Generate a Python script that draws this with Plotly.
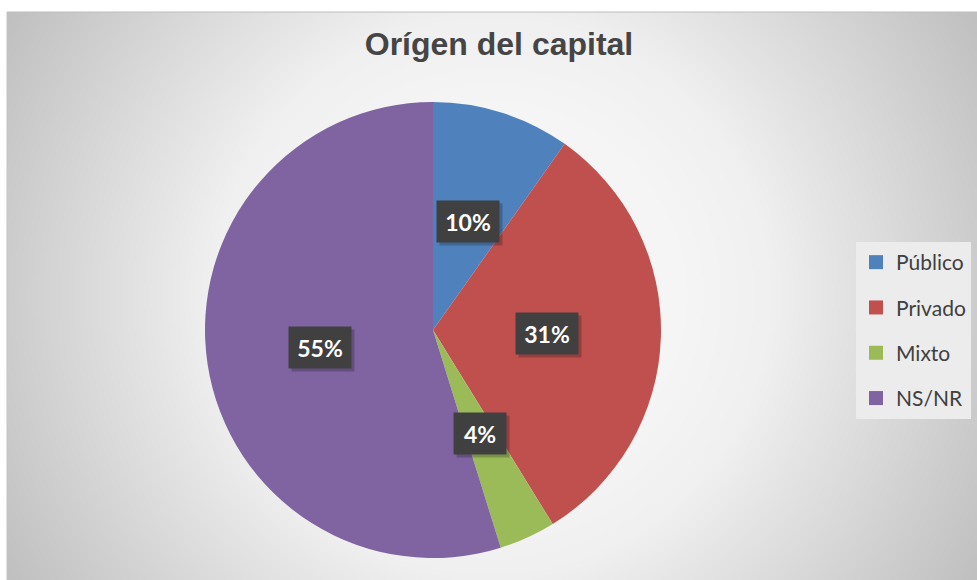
import math, zlib, struct, base64
import numpy as np
import plotly.graph_objects as go

# ---- data ----
labels = ["Público", "Privado", "Mixto", "NS/NR"]
values = [9.8, 31.4, 4.0, 54.8]
colors = ["#4F81BD", "#C0504D", "#9BBB59", "#8064A2"]
title_text = "Orígen del capital"

W, H = 977, 580
# chart-area frame (pixels)
AX0, AY0 = 7, 12
# pie placement (pixels)
CX, CY, R = 433, 330, 228

# ---- background radial gradient as a PNG ----
def make_bg(w, h):
    ys, xs = np.mgrid[0:h, 0:w].astype(float)
    cx, cy = (w - 1) / 2, (h - 1) / 2
    d = np.hypot(xs - cx, ys - cy) / math.hypot(cx, cy)
    stops_d = [0.0, 0.35, 0.5, 0.6, 0.8, 1.0]
    stops_v = [247, 245, 240, 230, 211, 192]
    v = np.interp(d, stops_d, stops_v).clip(0, 255).astype(np.uint8)
    raw = b"".join(b"\x00" + v[i].tobytes() for i in range(h))
    def chunk(t, data):
        c = struct.pack(">I", len(data)) + t + data
        return c + struct.pack(">I", zlib.crc32(t + data) & 0xffffffff)
    png = (b"\x89PNG\r\n\x1a\n"
           + chunk(b"IHDR", struct.pack(">IIBBBBB", w, h, 8, 0, 0, 0, 0))
           + chunk(b"IDAT", zlib.compress(raw, 9))
           + chunk(b"IEND", b""))
    return "data:image/png;base64," + base64.b64encode(png).decode()

bg_src = make_bg((W - AX0) // 2, (H - AY0) // 2)

fig = go.Figure()

fig.add_trace(go.Pie(
    labels=labels, values=values,
    marker=dict(colors=colors, line=dict(width=0)),
    sort=False, direction="clockwise", rotation=0,
    textinfo="none", showlegend=False,
    domain=dict(x=[(CX - R) / W, (CX + R) / W], y=[1 - (CY + R) / H, 1 - (CY - R) / H]),
    hovertemplate="%{label}: %{percent}<extra></extra>",
))

# legend entries (one group each so spacing can be set)
for i, (lab, col) in enumerate(zip(labels, colors)):
    fig.add_trace(go.Scatter(
        x=[None], y=[None], mode="markers", name=lab,
        marker=dict(symbol="square", size=14, color=col),
        legendgroup=f"g{i}", showlegend=True,
    ))

# percentage labels positioned from cumulative slice angles
total = sum(values)
annotations = []
cum = 0.0
for v in values:
    mid = (cum + v / 2) / total * 2 * math.pi
    cum += v
    px = CX + 0.5 * R * math.sin(mid)
    py = CY - 0.5 * R * math.cos(mid)
    txt = f"{round(v / total * 100)}%"
    bw = 48 if len(txt) == 2 else 58
    # shadow
    annotations.append(dict(
        x=(px + 3) / W, y=1 - (py + 3) / H, xref="paper", yref="paper",
        xanchor="center", yanchor="middle",
        text="", showarrow=False, width=bw, height=37, borderpad=2,
        bgcolor="rgba(0,0,0,0.22)",
    ))
    annotations.append(dict(
        x=px / W, y=1 - py / H, xref="paper", yref="paper",
        xanchor="center", yanchor="middle",
        text=f"<b>{txt}</b>", showarrow=False, width=bw, height=37, borderpad=2,
        bgcolor="#404040",
        font=dict(family="Lato, Carlito, sans-serif", size=23, color="#ffffff"),
    ))

fig.update_layout(
    width=W, height=H,
    margin=dict(l=0, r=0, t=0, b=0, autoexpand=False),
    paper_bgcolor="#ffffff", plot_bgcolor="rgba(0,0,0,0)",
    xaxis=dict(visible=False, range=[0, 1], domain=[0, 1]),
    yaxis=dict(visible=False, range=[0, 1], domain=[0, 1]),
    images=[dict(
        source=bg_src, xref="paper", yref="paper",
        x=AX0 / W, y=1 - AY0 / H, sizex=(W - AX0) / W, sizey=(H - AY0) / H,
        xanchor="left", yanchor="top", sizing="stretch", layer="below",
    )],
    shapes=[
        dict(type="line", xref="paper", yref="paper", x0=AX0 / W, x1=1,
             y0=1 - AY0 / H, y1=1 - AY0 / H, line=dict(color="#bdbdbd", width=1)),
        dict(type="line", xref="paper", yref="paper", x0=AX0 / W, x1=AX0 / W,
             y0=0, y1=1 - AY0 / H, line=dict(color="#c4c4c4", width=1)),
    ],
    title=dict(
        text=title_text, x=499 / W, xanchor="center",
        y=1 - 44 / H, yanchor="middle", yref="container",
        font=dict(family="Arial, Liberation Sans, sans-serif", size=32,
                  color="#454545", weight="bold"),
    ),
    legend=dict(
        x=856 / W, y=1 - 242 / H, xanchor="left", yanchor="top",
        bgcolor="#ececec", borderwidth=0, tracegroupgap=15,
        font=dict(family="Lato, Carlito, sans-serif", size=21, color="#404040"),
        itemwidth=30,
    ),
    annotations=annotations,
)

fig.write_html(
    "out.html",
    config={"displayModeBar": False},
    post_script="document.body.style.margin='0';document.body.style.overflow='hidden';",
)
